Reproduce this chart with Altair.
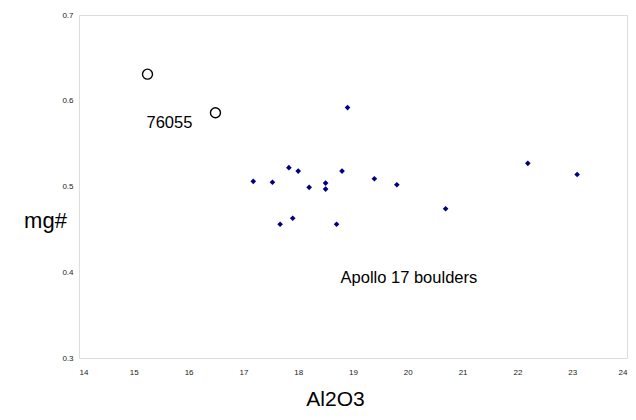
import altair as alt
import pandas as pd

# Apollo 17 boulders (blue diamonds)
boulder_al2o3 = [17.18, 17.53, 17.83, 18.00, 18.20, 18.50, 18.50, 18.80, 19.39,
                 17.67, 17.90, 18.70, 18.90, 19.80, 20.69, 22.19, 23.09]
boulder_mg = [0.506, 0.505, 0.522, 0.518, 0.499, 0.504, 0.497, 0.518, 0.509,
              0.456, 0.463, 0.456, 0.592, 0.502, 0.474, 0.527, 0.514]

# 76055 (open circles)
s76055_al2o3 = [15.25, 16.49]
s76055_mg = [0.631, 0.586]

# annotations
label_text = ["76055", "Apollo 17 boulders"]
label_x = [15.65, 20.02]
label_y = [0.5745, 0.3935]

x_ticks = list(range(14, 25))
y_ticks = [0.3, 0.4, 0.5, 0.6, 0.7]

FONT = "Liberation Sans"

df_b = pd.DataFrame({"Al2O3": boulder_al2o3, "mg": boulder_mg})
df_c = pd.DataFrame({"Al2O3": s76055_al2o3, "mg": s76055_mg})
df_t = pd.DataFrame({"Al2O3": label_x, "mg": label_y, "t": label_text})

xscale = alt.Scale(domain=[14, 24], nice=False, zero=False)
yscale = alt.Scale(domain=[0.3, 0.7], nice=False, zero=False)

xaxis = alt.Axis(values=x_ticks, format="d", title="Al2O3", grid=False, domain=False,
                 ticks=False, labelFontSize=8, labelColor="#222", labelPadding=10,
                 labelFont=FONT, titleFont=FONT, titleFontSize=21, titleFontWeight="normal",
                 titleColor="#000", titleX=256, titleY=51, titleAlign="center",
                 titleBaseline="bottom")
yaxis = alt.Axis(values=y_ticks, format=".1f", title="mg#", grid=False, domain=False,
                 ticks=False, labelFontSize=8, labelColor="#222", labelPadding=6,
                 labelFont=FONT, titleFont=FONT, titleFontSize=22, titleFontWeight="normal",
                 titleColor="#000", titleAngle=0, titleX=-34, titleY=205,
                 titleAlign="center", titleBaseline="middle")

boulders = alt.Chart(df_b).mark_point(shape="diamond", filled=True, color="#000080",
                                       size=32, opacity=1).encode(
    x=alt.X("Al2O3:Q", scale=xscale, axis=xaxis),
    y=alt.Y("mg:Q", scale=yscale, axis=yaxis),
)

circles = alt.Chart(df_c).mark_point(shape="circle", filled=False, color="#000",
                                      size=100, strokeWidth=1.4, opacity=1).encode(
    x=alt.X("Al2O3:Q", scale=xscale),
    y=alt.Y("mg:Q", scale=yscale),
)

labels = alt.Chart(df_t).mark_text(font=FONT, fontSize=16.5, color="#000",
                                    align="center", baseline="middle").encode(
    x=alt.X("Al2O3:Q", scale=xscale),
    y=alt.Y("mg:Q", scale=yscale),
    text="t:N",
)

chart = alt.layer(boulders, circles, labels).properties(
    width=548, height=343,
    autosize=alt.AutoSizeParams(type="none"),
    padding={"left": 71, "top": 7, "right": 1, "bottom": 53},
).configure_view(stroke="#999999", strokeWidth=2).configure(background="white")

chart.save("out.html", embed_options={"renderer": "svg", "actions": False})
